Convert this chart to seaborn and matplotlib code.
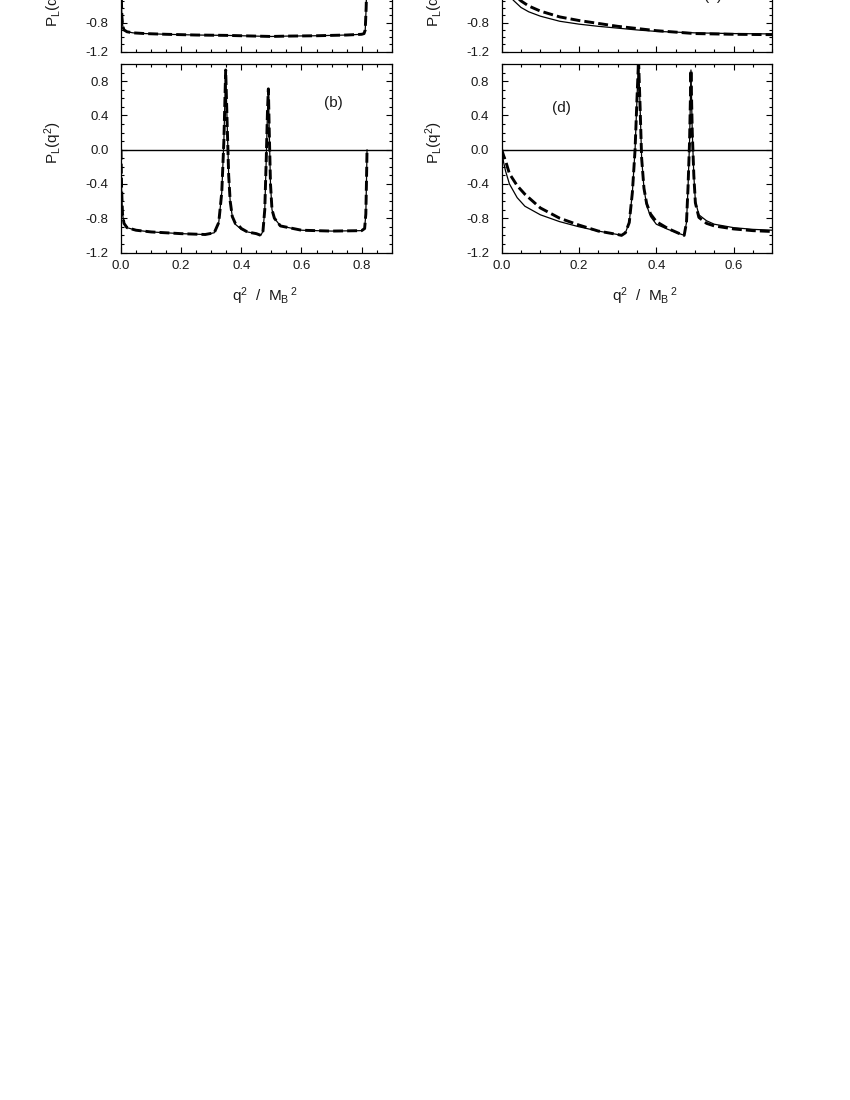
import numpy as np
import pandas as pd
import matplotlib
matplotlib.use("Agg")
import matplotlib.pyplot as plt
from matplotlib.ticker import MultipleLocator, FormatStrFormatter
import seaborn as sns

# ---------------- data ----------------
# panel (a): top-left
a_x = [0.0, 0.001, 0.003, 0.006, 0.01, 0.02, 0.04, 0.08, 0.15, 0.25, 0.35, 0.45,
       0.5, 0.55, 0.65, 0.75, 0.80, 0.808, 0.812, 0.815, 0.817, 0.818]
a_solid = [0.0, -0.45, -0.72, -0.85, -0.90, -0.925, -0.94, -0.95, -0.96, -0.97, -0.975, -0.985,
           -0.99, -0.985, -0.98, -0.97, -0.96, -0.95, -0.9, -0.6, -0.3, 0.0]
a_dash = [0.0, -0.45, -0.72, -0.85, -0.90, -0.925, -0.94, -0.95, -0.96, -0.97, -0.975, -0.985,
          -0.99, -0.985, -0.98, -0.97, -0.96, -0.95, -0.9, -0.6, -0.3, 0.0]

# panel (c): top-right
c_x = [0.0, 0.005, 0.01, 0.02, 0.03, 0.05, 0.07, 0.1, 0.15, 0.2, 0.25, 0.3, 0.35, 0.4,
       0.5, 0.6, 0.7]
c_solid = [0.0, -0.2, -0.3, -0.42, -0.49, -0.59, -0.65, -0.71, -0.78, -0.82, -0.85, -0.875,
           -0.9, -0.92, -0.94, -0.95, -0.955]
c_dash = [0.0, -0.1, -0.18, -0.3, -0.4, -0.5, -0.57, -0.64, -0.72, -0.77, -0.81, -0.85,
          -0.88, -0.91, -0.95, -0.96, -0.965]

# panel (b): bottom-left
b_x = [0.0, 0.002, 0.005, 0.01, 0.02, 0.05, 0.1, 0.2, 0.28, 0.31, 0.325, 0.335, 0.342,
       0.348, 0.353, 0.358, 0.363, 0.37, 0.38, 0.39, 0.40, 0.42, 0.45, 0.465, 0.472, 0.478,
       0.483, 0.487, 0.49, 0.493, 0.497, 0.502, 0.51, 0.53, 0.6, 0.7, 0.8, 0.81, 0.814,
       0.816, 0.818]
b_solid = [0.0, -0.45, -0.75, -0.86, -0.91, -0.94, -0.96, -0.98, -0.99, -0.97, -0.85, -0.5,
           0.1, 0.93, 0.3, -0.3, -0.6, -0.78, -0.87, -0.9, -0.93, -0.96, -0.98, -1.0, -0.95,
           -0.7, -0.1, 0.45, 0.71, 0.2, -0.4, -0.7, -0.8, -0.89, -0.94, -0.95, -0.945,
           -0.92, -0.75, -0.4, 0.0]
b_dash = [0.0, -0.45, -0.75, -0.86, -0.91, -0.94, -0.96, -0.98, -0.99, -0.97, -0.85, -0.5,
          0.1, 0.93, 0.3, -0.3, -0.6, -0.78, -0.86, -0.88, -0.92, -0.96, -0.98, -1.0, -0.95,
          -0.7, -0.1, 0.45, 0.71, 0.2, -0.4, -0.7, -0.8, -0.89, -0.94, -0.95, -0.945,
          -0.92, -0.75, -0.4, 0.0]

# panel (d): bottom-right
d_x = [0.0, 0.005, 0.01, 0.02, 0.04, 0.06, 0.1, 0.15, 0.2, 0.25, 0.3, 0.31, 0.32, 0.33,
       0.338, 0.345, 0.35, 0.354, 0.358, 0.362, 0.368, 0.375, 0.385, 0.4, 0.43, 0.46,
       0.472, 0.478, 0.482, 0.486, 0.4896, 0.493, 0.497, 0.501, 0.51, 0.53, 0.55, 0.6,
       0.65, 0.7]
d_solid = [0.0, -0.15, -0.25, -0.4, -0.56, -0.66, -0.76, -0.84, -0.9, -0.95, -0.99, -1.0,
           -0.97, -0.85, -0.5, 0.0, 0.6, 1.05, 0.5, -0.1, -0.45, -0.65, -0.78, -0.87,
           -0.93, -0.98, -1.0, -0.85, -0.44, 0.1, 0.93, 0.2, -0.3, -0.6, -0.76, -0.83,
           -0.87, -0.91, -0.93, -0.94]
d_dash = [0.0, -0.07, -0.13, -0.28, -0.42, -0.52, -0.68, -0.8, -0.88, -0.95, -0.99, -1.0,
          -0.97, -0.85, -0.5, 0.0, 0.6, 1.05, 0.5, -0.1, -0.45, -0.63, -0.75, -0.84,
          -0.92, -0.98, -1.0, -0.85, -0.44, 0.1, 0.93, 0.2, -0.3, -0.62, -0.79, -0.86,
          -0.89, -0.925, -0.945, -0.955]

panel_letters = ["(a)", "(c)", "(b)", "(d)"]
xlabel_text = r"q$^2$  /  M$_B$$^{\,2}$"
ylabel_text = r"P$_L$(q$^2$)"

# ---------------- style ----------------
sns.set_theme(style="ticks")
plt.rcParams["font.family"] = ["Liberation Sans", "DejaVu Sans"]
plt.rcParams["mathtext.default"] = "regular"
plt.rcParams["axes.unicode_minus"] = False
plt.rcParams["axes.linewidth"] = 0.9
plt.rcParams["axes.edgecolor"] = "black"

W, H = 850, 1100
fig = plt.figure(figsize=(W / 100, H / 100), dpi=100)


def frac(x0, x1, ytop, ybot):
    return [x0 / W, 1 - ybot / H, (x1 - x0) / W, (ybot - ytop) / H]


ax_h = 188.5
ax_a = fig.add_axes(frac(121, 391.7, 51.7 - ax_h, 51.7))
ax_c = fig.add_axes(frac(501.7, 772.3, 51.7 - ax_h, 51.7))
ax_b = fig.add_axes(frac(121, 391.7, 64, 252.5))
ax_d = fig.add_axes(frac(501.7, 772.3, 64, 252.5))

dash_style = (0, (3.4, 1.4))

panels = [
    (ax_a, a_x, a_solid, a_dash, 0.9, (-1.2, 1.4), panel_letters[0], (0.707, 0.3), True),
    (ax_c, c_x, c_solid, c_dash, 0.7, (-1.2, 1.4), panel_letters[1], (0.547, -0.43), True),
    (ax_b, b_x, b_solid, b_dash, 0.9, (-1.2, 1.0), panel_letters[2], (0.707, 0.55), False),
    (ax_d, d_x, d_solid, d_dash, 0.7, (-1.2, 1.0), panel_letters[3], (0.154, 0.49), False),
]

for ax, xs, ys, yd, xmax, ylim, letter, lpos, is_top in panels:
    df = pd.DataFrame({"x": xs, "solid": ys, "dashed": yd})
    ax.axhline(0.0, color="black", lw=1.0, zorder=1)
    sns.lineplot(data=df, x="x", y="solid", ax=ax, color="black", lw=0.9,
                 sort=False, estimator=None, zorder=2)
    sns.lineplot(data=df, x="x", y="dashed", ax=ax, color="black", lw=2.1,
                 linestyle=dash_style, sort=False, estimator=None, zorder=3)
    ax.set_xlim(0, xmax)
    ax.set_ylim(*ylim)
    ax.xaxis.set_major_locator(MultipleLocator(0.2))
    ax.xaxis.set_minor_locator(MultipleLocator(0.05))
    ax.yaxis.set_major_locator(MultipleLocator(0.4))
    ax.yaxis.set_minor_locator(MultipleLocator(0.1))
    ax.xaxis.set_major_formatter(FormatStrFormatter("%.1f"))
    ax.yaxis.set_major_formatter(FormatStrFormatter("%.1f"))
    ax.tick_params(which="both", direction="in", top=True, right=True,
                   color="black", width=0.8, labelsize=9.5, labelcolor="#1a1a1a")
    ax.tick_params(which="major", length=4.5)
    ax.tick_params(which="minor", length=2.5)
    ax.tick_params(axis="x", pad=5.5)
    ax.tick_params(axis="y", pad=9)
    for s in ax.spines.values():
        s.set_linewidth(0.9)
        s.set_color("black")
    ax.text(lpos[0], lpos[1], letter, fontsize=11, ha="center", va="center",
            color="#1a1a1a")
    ax.set_ylabel(ylabel_text, fontsize=11, color="#1a1a1a")
    if is_top:
        ax.set_xlabel("")
        ax.tick_params(axis="x", labelbottom=False)
        ax.yaxis.set_label_coords(-0.21, 0.245)
    else:
        ax.set_xlabel(xlabel_text, fontsize=11, color="#1a1a1a")
        ax.xaxis.set_label_coords(0.53, -0.175)
        ax.yaxis.set_label_coords(-0.21, 0.584)

fig.savefig("out.png", dpi=100, facecolor="white")
